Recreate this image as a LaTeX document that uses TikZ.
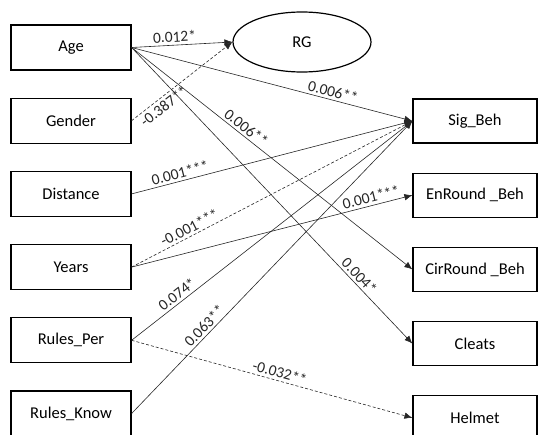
\documentclass[tikz,border=0pt]{standalone}
\usepackage{fontspec}
\setmainfont{Carlito}
\usepackage{tikz}
\usetikzlibrary{positioning, shapes.geometric}
\usetikzlibrary{arrows.meta}
\tikzstyle{varbox}=[rectangle,draw=black,line width=1.2pt,
minimum width=120pt,minimum height=45pt,font=\fontsize{16.5}{19}\selectfont]
\tikzstyle{outbox}=[varbox,minimum width=124pt,minimum height=44pt]
\tikzstyle{latent}=[ellipse,draw=black,line width=1.2pt,
minimum width=138pt,minimum height=60pt,font=\fontsize{16.5}{19}\selectfont]
\tikzstyle{poseffect}=[-{Latex[length=8pt,width=6.5pt]},line width=0.6pt,black!85]
\tikzstyle{negeffect}=[poseffect,dash pattern=on 3pt off 2pt]
\tikzstyle{coef}=[sloped,inner sep=2.5pt,font=\fontsize{15.5}{18}\selectfont]
\def \leftgap {27pt}
\def \rightgap {29pt}

\begin{document}
\begin{tikzpicture}
        \useasboundingbox (0,0) rectangle (538pt,-434pt);
        % predictors
        \node[varbox] (age) at (71pt,-47.5pt) {Age};
        \node[varbox, below=\leftgap of age] (gender) {Gender};
        \node[varbox, below=\leftgap of gender] (distance) {Distance};
        \node[varbox, below=\leftgap of distance] (years) {Years};
        \node[varbox, below=\leftgap of years] (rulesper) {Rules\_Per};
        \node[varbox, below=\leftgap of rulesper] (rulesknow) {Rules\_Know};

        \node[latent] (rg) at (302pt,-42pt) {RG};

        % outcomes
        \node[outbox] (sigbeh) at (475pt,-121pt) {Sig\_Beh};
        \node[outbox, below=\rightgap of sigbeh] (enround) {EnRound \_Beh};
        \node[outbox, below=\rightgap of enround] (cirround) {CirRound \_Beh};
        \node[outbox, below=\rightgap of cirround] (cleats) {Cleats};
        \node[outbox, below=\rightgap of cleats] (helmet) {Helmet};

        \path[poseffect]
            (age.east) edge node[coef, pos=.43, above] {0.012*} (rg.west)
            (age.east) edge node[coef, pos=.71, above] {0.006**} (sigbeh.west)
            (age.east) edge node[coef, pos=.39, above] {0.006**} (cirround.west)
            (age.east) edge node[coef, pos=.79, above] {0.004*} (cleats.west)
            (distance.east) edge node[coef, pos=.18, above] {0.001***} (sigbeh.west)
            (years.east) edge node[coef, pos=.86, above] {0.001***} (enround.west)
            (rulesper.east) edge node[coef, pos=.18, above] {0.074*} (sigbeh.west)
            (rulesknow.east) edge node[coef, pos=.28, above] {0.063**} (sigbeh.west);
        \path[negeffect]
            (gender.east) edge node[coef, pos=.27, below] {-0.387**} (rg.west)
            (years.east) edge node[coef, pos=.22, above] {-0.001***} (sigbeh.west)
            (rulesper.east) edge node[coef, pos=.52, above] {-0.032**} (helmet.west);
    \end{tikzpicture}
\end{document}
